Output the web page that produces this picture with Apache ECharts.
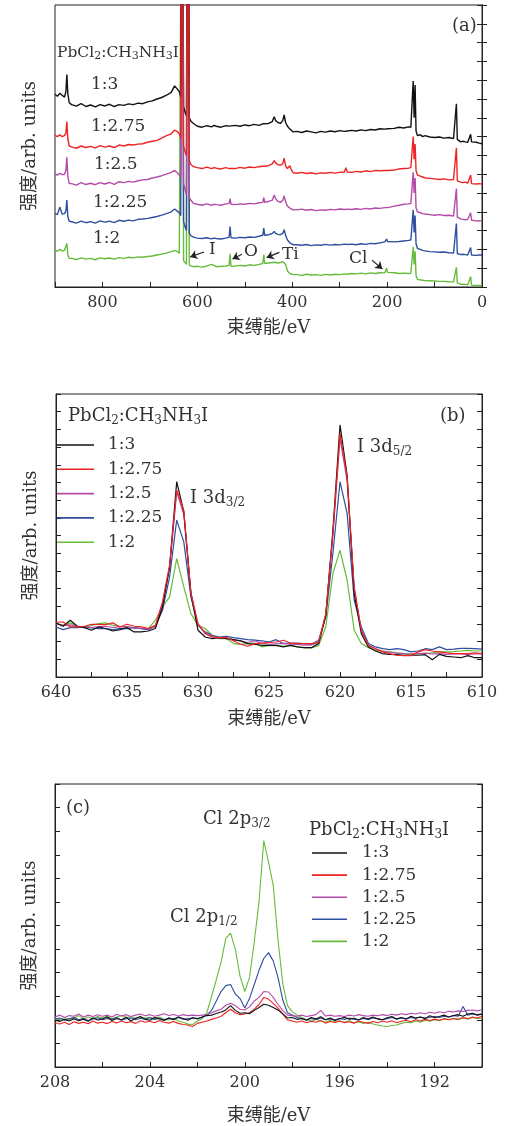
<!DOCTYPE html>
<html>
<head>
<meta charset="utf-8">
<script src="https://cdn.jsdelivr.net/npm/echarts@6/dist/echarts.min.js"></script>
<style>html,body{margin:0;padding:0;background:#fff}#main{width:506px;height:1126px}</style>
</head>
<body>
<div id="main"></div>
<script>
// PbCl2:CH3NH3I ratios
var names = ['1:3', '1:2.75', '1:2.5', '1:2.25', '1:2'];

// (a) survey, binding energy / eV
var xA = [900, 895, 890, 885, 880, 877, 875, 873, 870,
  865, 855, 845, 835, 825, 815, 805, 795, 785, 775, 765,
  755, 745, 735, 725, 715, 705, 695, 685, 675, 665, 655,
  648, 643, 638, 635, 632, 629, 626, 623, 620, 617, 613, 608,
  600, 590, 580, 570, 565, 560, 550, 540, 533, 531, 529,
  520, 510, 500, 490, 480, 470, 462, 460, 458, 450,
  442, 438, 435, 430, 425, 420, 417, 414, 410, 405, 403, 398,
  390, 380, 370, 360, 350, 340, 330, 320, 310, 300,
  290, 287, 284, 275, 265, 255, 245, 235, 225, 215,
  205, 201, 199, 195, 185, 175, 165, 155, 150,
  147, 145, 143, 141, 139, 136, 130, 125, 120, 110,
  100, 90, 80, 70, 60, 56, 54, 52, 49, 45,
  40, 35, 30, 26, 24, 22, 18, 12, 6, 0];
var a13 = [10.25, 10.15, 10.3, 10.2, 10.1, 10.4, 11.3, 10.3, 9.8,
  9.7, 9.62, 9.75, 9.6, 9.68, 9.58, 9.7, 9.63, 9.72, 9.6, 9.7,
  9.66, 9.74, 9.7, 9.78, 9.75, 9.85, 9.9, 10.0, 10.08, 10.2, 10.35,
  10.7, 10.55, 10.4, 10.1, 30, 9.6, 9.3, 9.1, 30, 9.0, 8.8, 8.7,
  8.55, 8.5, 8.58, 8.52, 8.6, 8.55, 8.5, 8.58, 8.56, 8.6, 8.55,
  8.6, 8.55, 8.62, 8.58, 8.65, 8.6, 8.68, 8.66, 8.7, 8.7,
  8.8, 9.05, 8.85, 8.75, 8.7, 8.85, 9.15, 8.75, 8.55, 8.4, 8.35, 8.25,
  8.28, 8.22, 8.3, 8.25, 8.2, 8.28, 8.24, 8.3, 8.26, 8.32,
  8.28, 8.35, 8.3, 8.33, 8.3, 8.36, 8.32, 8.38, 8.35, 8.42,
  8.4, 8.45, 8.42, 8.48, 8.44, 8.5, 8.46, 8.52, 8.5,
  8.55, 10.95, 9.0, 10.75, 8.3, 8.05, 8.1, 8.0, 8.05, 7.98,
  7.95, 7.98, 7.92, 7.95, 7.9, 7.92, 9.75, 7.85, 7.75, 7.72,
  7.75, 7.72, 7.7, 7.75, 8.12, 7.72, 7.68, 7.7, 7.65, 7.62];
var a1275 = [8.07, 8.0, 8.1, 8.0, 8.05, 8.2, 8.8, 7.9, 7.5,
  7.45, 7.38, 7.5, 7.42, 7.48, 7.4, 7.52, 7.44, 7.5, 7.42, 7.55,
  7.5, 7.58, 7.55, 7.6, 7.62, 7.7, 7.75, 7.8, 7.92, 8.05, 8.15,
  8.35, 8.28, 8.15, 7.9, 30, 7.5, 7.2, 7.0, 30, 6.7, 6.5, 6.4,
  6.35, 6.3, 6.38, 6.3, 6.35, 6.32, 6.28, 6.35, 6.3, 6.38, 6.32,
  6.3, 6.36, 6.32, 6.38, 6.35, 6.4, 6.42, 6.45, 6.48, 6.45,
  6.55, 6.72, 6.6, 6.5, 6.48, 6.55, 6.85, 6.45, 6.3, 6.45, 6.3, 6.08,
  6.05, 6.1, 6.04, 6.08, 6.02, 6.07, 6.05, 6.1, 6.06, 6.1,
  6.12, 6.35, 6.12, 6.1, 6.15, 6.12, 6.18, 6.14, 6.2, 6.18,
  6.2, 6.22, 6.2, 6.25, 6.22, 6.28, 6.3, 6.32, 6.35,
  6.32, 8.0, 6.8, 7.6, 6.2, 5.95, 5.9, 5.85, 5.8, 5.78,
  5.75, 5.72, 5.75, 5.7, 5.72, 5.7, 7.4, 5.65, 5.6, 5.58,
  5.55, 5.58, 5.52, 5.55, 5.95, 5.5, 5.52, 5.48, 5.5, 5.47];
var a125 = [6.04, 5.95, 6.05, 5.98, 6.0, 6.2, 6.9, 5.9, 5.5,
  5.5, 5.42, 5.55, 5.45, 5.52, 5.44, 5.55, 5.48, 5.56, 5.46, 5.6,
  5.55, 5.62, 5.58, 5.65, 5.7, 5.72, 5.8, 5.85, 5.92, 6.0, 6.1,
  6.2, 6.1, 5.95, 5.8, 30, 5.5, 5.2, 4.9, 30, 4.75, 4.6, 4.45,
  4.4, 4.35, 4.42, 4.35, 4.4, 4.38, 4.35, 4.42, 4.45, 4.7, 4.4,
  4.38, 4.42, 4.4, 4.45, 4.42, 4.48, 4.5, 4.75, 4.5, 4.55,
  4.62, 4.9, 4.7, 4.55, 4.5, 4.6, 4.85, 4.55, 4.3, 4.2, 4.15, 4.1,
  4.1, 4.14, 4.08, 4.12, 4.06, 4.1, 4.08, 4.13, 4.1, 4.15,
  4.12, 4.2, 4.14, 4.12, 4.16, 4.13, 4.18, 4.15, 4.2, 4.18,
  4.22, 4.25, 4.22, 4.28, 4.3, 4.35, 4.4, 4.42, 4.45,
  4.4, 6.1, 5.0, 5.8, 4.2, 4.0, 3.95, 3.9, 3.88, 3.85,
  3.82, 3.85, 3.8, 3.82, 3.78, 3.8, 5.24, 3.72, 3.65, 3.62,
  3.6, 3.58, 3.6, 3.56, 3.95, 3.55, 3.54, 3.52, 3.53, 3.52];
var a1225 = [3.91, 3.85, 4.25, 3.88, 3.9, 4.05, 4.62, 3.75, 3.5,
  3.47, 3.4, 3.5, 3.42, 3.48, 3.4, 3.52, 3.45, 3.5, 3.42, 3.55,
  3.5, 3.56, 3.52, 3.6, 3.62, 3.65, 3.7, 3.75, 3.82, 3.9, 4.0,
  4.15, 4.05, 3.95, 3.8, 30, 3.5, 3.2, 3.0, 30, 2.85, 2.72, 2.65,
  2.6, 2.58, 2.62, 2.56, 2.6, 2.58, 2.55, 2.6, 2.65, 3.22, 2.62,
  2.6, 2.64, 2.62, 2.66, 2.64, 2.7, 2.75, 3.13, 2.75, 2.78,
  2.85, 2.96, 2.85, 2.8, 2.78, 2.85, 3.05, 2.75, 2.5, 2.35, 2.3, 2.25,
  2.25, 2.22, 2.26, 2.2, 2.24, 2.22, 2.27, 2.23, 2.26, 2.24,
  2.28, 2.3, 2.26, 2.28, 2.25, 2.3, 2.27, 2.32, 2.3, 2.35,
  2.4, 2.55, 2.42, 2.38, 2.4, 2.42, 2.45, 2.48, 2.5,
  2.45, 4.1, 2.9, 3.8, 2.3, 2.05, 2.0, 1.95, 1.92, 1.88,
  1.87, 1.85, 1.86, 1.82, 1.8, 1.82, 3.38, 1.78, 1.75, 1.72,
  1.74, 1.72, 1.7, 1.72, 2.1, 1.7, 1.72, 1.68, 1.7, 1.7];
var a12 = [1.96, 1.9, 2.0, 1.92, 1.95, 2.0, 2.32, 1.7, 1.52,
  1.52, 1.46, 1.55, 1.48, 1.52, 1.45, 1.55, 1.5, 1.54, 1.48, 1.56,
  1.52, 1.58, 1.55, 1.6, 1.58, 1.62, 1.65, 1.7, 1.75, 1.8, 1.88,
  1.95, 1.9, 1.8, 1.7, 30, 1.4, 1.3, 1.2, 30, 1.15, 1.1, 1.08,
  1.1, 1.06, 1.12, 1.2, 1.15, 1.08, 1.1, 1.12, 1.15, 1.77, 1.1,
  1.12, 1.15, 1.12, 1.18, 1.15, 1.2, 1.25, 1.72, 1.25, 1.28,
  1.3, 1.36, 1.3, 1.28, 1.3, 1.35, 1.45, 1.2, 0.85, 0.72, 0.7, 0.66,
  0.66, 0.62, 0.68, 0.64, 0.66, 0.62, 0.67, 0.64, 0.68, 0.66,
  0.7, 0.75, 0.68, 0.72, 0.7, 0.74, 0.7, 0.75, 0.72, 0.76,
  0.75, 1.0, 0.78, 0.74, 0.76, 0.72, 0.74, 0.72, 0.73,
  0.75, 2.14, 1.2, 1.9, 0.6, 0.4, 0.38, 0.36, 0.34, 0.33,
  0.32, 0.3, 0.3, 0.28, 0.27, 0.28, 1.05, 0.22, 0.18, 0.15,
  0.15, 0.14, 0.12, 0.12, 0.55, 0.1, 0.1, 0.08, 0.08, 0.07];

// (b) I 3d region
var xB = [640, 639.5, 639, 638.5, 638, 637.5, 637, 636.5, 636, 635.5,
  635, 634.5, 634, 633.5, 633, 632.5, 632, 631.5, 631, 630.5,
  630, 629.5, 629, 628.5, 628, 627.5, 627, 626.5, 626, 625.5,
  625, 624.5, 624, 623.5, 623, 622.5, 622, 621.5, 621, 620.5,
  620, 619.5, 619, 618.5, 618, 617.5, 617, 616.5, 616, 615.5,
  615, 614.5, 614, 613.5, 613, 612.5, 612, 611.5, 611, 610.5,
  610];
var b13 = [3.06, 2.87, 3.21, 2.87, 2.79, 2.64, 2.83, 2.74, 2.6, 2.68,
  2.79, 2.55, 2.55, 2.6, 2.74, 3.96, 6.23, 11.04, 9.34, 4.72,
  2.64, 2.26, 2.17, 2.23, 2.17, 2.11, 2.04, 1.89, 1.85, 1.79,
  1.79, 1.79, 1.7, 1.79, 1.7, 1.66, 1.66, 1.89, 3.49, 8.3,
  14.25, 11.42, 4.72, 2.45, 1.7, 1.47, 1.32, 1.28, 1.26, 1.23,
  1.23, 1.23, 1.26, 0.98, 1.28, 1.17, 1.13, 1.09, 1.21, 1.09,
  1.09];
var b1275 = [3.11, 3.11, 2.83, 2.83, 2.87, 2.98, 2.98, 2.96, 3.06, 2.83,
  2.98, 2.87, 2.83, 2.74, 2.92, 4.25, 6.32, 10.57, 9.43, 4.72,
  3.02, 2.45, 2.26, 2.23, 2.23, 2.04, 1.85, 1.74, 1.89, 1.92,
  1.96, 1.98, 2.08, 1.92, 1.89, 1.89, 1.89, 1.98, 3.58, 8.11,
  13.77, 11.32, 5.09, 2.64, 1.79, 1.6, 1.42, 1.32, 1.23, 1.21,
  1.21, 1.42, 1.55, 1.47, 1.42, 1.36, 1.32, 1.32, 1.32, 1.36,
  1.32];
var b125 = [3.0, 2.92, 2.95, 2.85, 2.83, 2.8, 2.85, 2.87, 2.8, 2.83,
  2.85, 2.78, 2.75, 2.72, 2.85, 4.1, 6.2, 10.47, 9.2, 4.8,
  2.95, 2.5, 2.28, 2.2, 2.22, 2.1, 2.05, 1.95, 2.05, 1.9,
  1.85, 1.88, 1.9, 1.86, 1.84, 1.8, 1.82, 1.95, 3.5, 8.0,
  13.5, 11.1, 5.0, 2.6, 1.8, 1.6, 1.45, 1.4, 1.35, 1.32,
  1.3, 1.32, 1.35, 1.3, 1.32, 1.28, 1.3, 1.3, 1.28, 1.3,
  1.3];
var b1225 = [2.83, 2.68, 2.79, 2.79, 2.83, 2.77, 2.74, 2.74, 2.68, 2.74,
  2.74, 2.79, 2.74, 2.68, 2.87, 3.77, 5.66, 8.87, 7.64, 4.53,
  2.92, 2.55, 2.36, 2.26, 2.3, 2.23, 2.17, 2.11, 2.08, 2.04,
  1.98, 2.11, 1.89, 1.92, 1.92, 1.89, 1.85, 2.08, 3.4, 6.98,
  11.04, 9.25, 4.34, 2.83, 1.89, 1.7, 1.6, 1.55, 1.6, 1.55,
  1.42, 1.47, 1.6, 1.55, 1.7, 1.55, 1.58, 1.62, 1.62, 1.6,
  1.58];
var b12 = [3.02, 2.92, 3.06, 2.87, 2.79, 2.92, 3.02, 3.06, 2.92, 2.87,
  2.83, 2.77, 2.74, 2.74, 3.21, 3.96, 4.53, 6.7, 5.1, 3.58,
  2.92, 2.74, 2.36, 2.17, 2.17, 1.89, 1.85, 1.89, 1.92, 1.7,
  1.77, 1.79, 1.74, 1.79, 1.7, 1.64, 1.64, 1.79, 2.83, 5.85,
  7.17, 5.47, 2.64, 1.89, 1.66, 1.51, 1.47, 1.42, 1.36, 1.32,
  1.28, 1.32, 1.32, 1.36, 1.42, 1.42, 1.43, 1.47, 1.51, 1.47,
  1.47];

// (c) Cl 2p region
var xC = [208, 207.8, 207.6, 207.4, 207.2, 207, 206.8, 206.6, 206.4, 206.2,
  206, 205.8, 205.6, 205.4, 205.2, 205, 204.8, 204.6, 204.4, 204.2,
  204, 203.8, 203.6, 203.4, 203.2, 203, 202.8, 202.6, 202.4, 202.2,
  202, 201.8, 201.6, 201.4, 201.2, 201, 200.8, 200.6, 200.4, 200.2,
  200, 199.8, 199.6, 199.4, 199.2, 199, 198.8, 198.6, 198.4, 198.2,
  198, 197.8, 197.6, 197.4, 197.2, 197, 196.8, 196.6, 196.4, 196.2,
  196, 195.8, 195.6, 195.4, 195.2, 195, 194.8, 194.6, 194.4, 194.2,
  194, 193.8, 193.6, 193.4, 193.2, 193, 192.8, 192.6, 192.4, 192.2,
  192, 191.8, 191.6, 191.4, 191.2, 191, 190.8, 190.6, 190.4, 190.2,
  190];
var c13 = [1.98, 1.93, 2.02, 1.95, 2.05, 1.96, 2.03, 1.94, 2.08, 1.99,
  2.04, 2.12, 1.97, 2.06, 2.0, 2.11, 1.95, 2.07, 2.14, 2.02,
  1.98, 2.1, 2.05, 1.97, 2.08, 2.0, 2.12, 2.06, 1.98, 2.09,
  2.04, 2.12, 2.18, 2.2, 2.27, 2.33, 2.42, 2.6, 2.4, 2.28,
  2.3, 2.26, 2.4, 2.52, 2.66, 2.62, 2.52, 2.42, 2.25, 2.08,
  2.1, 2.02, 2.06, 1.98, 2.1, 2.04, 2.13, 2.0, 2.08, 1.97,
  2.05, 2.11, 2.02, 2.07, 1.99, 2.1, 2.03, 2.12, 2.05, 2.0,
  2.09, 2.14, 2.04, 2.1, 2.02, 2.15, 2.08, 2.12, 2.05, 2.17,
  2.1, 2.14, 2.2, 2.12, 2.18, 2.22, 2.15, 2.25, 2.28, 2.2,
  2.24];
var c1275 = [1.88, 1.82, 1.9, 1.8, 1.92, 1.85, 1.9, 1.83, 1.95, 1.86,
  1.9, 1.84, 1.93, 1.87, 1.95, 1.88, 1.92, 1.85, 1.96, 1.9,
  1.94, 1.88, 1.97, 1.9, 1.86, 1.93, 1.85, 1.8, 1.78, 1.72,
  1.85, 1.9, 1.95, 2.02, 2.08, 2.15, 2.3, 2.45, 2.3, 2.22,
  2.25, 2.3, 2.45, 2.65, 2.95, 2.88, 2.7, 2.5, 2.25, 2.0,
  1.95, 1.9, 1.95, 1.88, 1.94, 1.9, 1.97, 1.86, 1.93, 1.89,
  1.95, 1.88, 1.92, 1.86, 1.94, 1.9, 1.85, 1.93, 1.88, 1.95,
  1.9, 1.96, 1.88, 1.94, 1.98, 1.92, 2.0, 1.95, 2.02, 1.97,
  2.03, 1.98, 2.05, 2.0, 2.06, 2.02, 2.1, 2.05, 2.12, 2.08,
  2.15];
var c125 = [2.12, 2.2, 2.1, 2.18, 2.15, 2.25, 2.12, 2.2, 2.14, 2.22,
  2.15, 2.2, 2.12, 2.24, 2.16, 2.22, 2.14, 2.2, 2.25, 2.17,
  2.22, 2.15, 2.2, 2.26, 2.18, 2.23, 2.16, 2.22, 2.18, 2.2,
  2.18, 2.2, 2.22, 2.3, 2.38, 2.45, 2.62, 2.7, 2.6, 2.45,
  2.42, 2.55, 2.8, 2.95, 3.2, 3.18, 2.95, 2.65, 2.4, 2.2,
  2.18, 2.15, 2.2, 2.14, 2.18, 2.22, 2.4, 2.16, 2.2, 2.15,
  2.18, 2.14, 2.2, 2.16, 2.22, 2.18, 2.15, 2.2, 2.17, 2.22,
  2.18, 2.24, 2.2, 2.26, 2.22, 2.28, 2.25, 2.3, 2.26, 2.32,
  2.28, 2.34, 2.3, 2.36, 2.33, 2.38, 2.35, 2.4, 2.42, 2.38,
  2.43];
var c1225 = [2.02, 2.08, 1.98, 2.05, 2.1, 2.0, 2.06, 1.97, 2.04, 2.09,
  2.0, 2.06, 2.02, 2.1, 1.98, 2.05, 2.08, 2.0, 2.07, 2.03,
  2.09, 2.02, 2.06, 2.0, 2.08, 2.04, 2.1, 2.02, 2.05, 2.08,
  2.06, 2.1, 2.2, 2.4, 2.8, 3.2, 3.45, 3.5, 3.1, 2.9,
  2.5, 2.9, 3.5, 4.1, 4.6, 4.85, 4.5, 3.8, 2.85, 2.3,
  2.2, 2.1, 2.05, 2.0, 2.06, 2.02, 2.08, 2.0, 2.04, 2.0,
  2.06, 2.02, 2.08, 2.03, 2.0, 2.06, 2.02, 2.08, 2.04, 2.0,
  2.05, 2.1, 2.03, 2.08, 2.05, 2.1, 2.06, 2.12, 2.08, 2.1,
  2.14, 2.1, 2.15, 2.12, 2.18, 2.15, 2.57, 2.2, 2.25, 2.22,
  2.26];
var c12 = [2.05, 2.0, 2.1, 2.02, 2.08, 2.18, 2.04, 2.12, 2.06, 2.14,
  2.08, 2.15, 2.05, 2.12, 2.18, 2.1, 2.14, 2.06, 2.12, 2.08,
  2.1, 2.05, 2.12, 2.02, 2.0, 2.06, 1.95, 1.9, 1.82, 1.8,
  1.95, 2.05, 2.3, 3.0, 3.7, 4.45, 5.45, 5.68, 5.0, 3.85,
  3.2, 3.8, 5.3, 7.0, 9.6, 8.7, 7.7, 5.4, 3.55, 2.6,
  2.35, 2.2, 2.1, 2.0, 1.95, 2.02, 1.96, 1.9, 1.98, 1.92,
  1.95, 1.9, 1.96, 1.88, 1.92, 1.85, 1.9, 1.82, 1.78, 1.74,
  1.72, 1.76, 1.78, 1.85, 1.9, 1.88, 1.95, 1.9, 1.98, 1.94,
  2.0, 1.96, 2.04, 2.0, 2.06, 2.02, 2.08, 2.04, 2.1, 2.06,
  2.08];

var colors = {'1:3': '#111111', '1:2.75': '#ee2424', '1:2.5': '#b34ba8', '1:2.25': '#2f4e9f', '1:2': '#67bb3c'};
var FONT = '"DejaVu Serif", "Noto Sans CJK SC", serif';
var TXT = '#333';

var chart = echarts.init(document.getElementById('main'));

function mk(name, xs, ys, g, w) {
  return {
    name: name, type: 'line', xAxisIndex: g, yAxisIndex: g * 2,
    data: xs.map(function (x, i) { return [x, ys[i]]; }),
    symbol: 'none', clip: true, animation: false,
    lineStyle: {width: w, color: colors[name]},
    itemStyle: {color: colors[name]}
  };
}

function xAx(g, min, max, step, labStep, gap) {
  return {
    type: 'value', gridIndex: g, inverse: true, min: min, max: max, interval: step,
    axisLine: {lineStyle: {color: '#222', width: 1}},
    axisTick: {inside: true, length: 5, lineStyle: {color: '#222'}},
    splitLine: {show: false},
    axisLabel: {
      fontFamily: FONT, fontSize: 16, color: TXT, margin: 8,
      formatter: function (v) { return Math.abs(v / labStep - Math.round(v / labStep)) < 1e-6 ? String(v) : ''; }
    },
    name: '束缚能/eV', nameLocation: 'middle', nameGap: gap,
    nameTextStyle: {fontFamily: FONT, fontSize: 18, color: TXT}
  };
}

function yAx(g, max, right) {
  return {
    type: 'value', gridIndex: g, min: 0, max: max, interval: 1, position: right ? 'right' : 'left',
    axisLine: {show: true, lineStyle: {color: '#222', width: 1}},
    axisTick: {show: true, inside: true, length: 5, lineStyle: {color: '#222'}},
    axisLabel: {show: false}, splitLine: {show: false},
    name: right ? '' : '强度/arb. units', nameLocation: 'middle', nameGap: 16,
    nameTextStyle: {fontFamily: FONT, fontSize: 18, color: TXT}
  };
}

var chemRich = function (m, s, pad) {
  return {m: {fontFamily: FONT, fontSize: m}, s: {fontFamily: FONT, fontSize: s, padding: [pad, 0, 0, 0]}};
};
function txt(x, y, text, size, rich) {
  var st = {text: text, fontFamily: FONT, fontSize: size, fill: TXT, align: 'left', verticalAlign: 'middle'};
  if (rich) st.rich = rich;
  return {type: 'text', x: x, y: y, silent: true, style: st};
}
var CHEM = '{m|PbCl}{s|2}{m|:CH}{s|3}{m|NH}{s|3}{m|I}';

var order = ['1:2', '1:2.25', '1:2.5', '1:3', '1:2.75'];
var setA = {'1:3': a13, '1:2.75': a1275, '1:2.5': a125, '1:2.25': a1225, '1:2': a12};
var setB = {'1:3': b13, '1:2.75': b1275, '1:2.5': b125, '1:2.25': b1225, '1:2': b12};
var setC = {'1:3': c13, '1:2.75': c1275, '1:2.5': c125, '1:2.25': c1225, '1:2': c12};

var series = [];
order.forEach(function (n) { series.push(mk(n, xA, setA[n], 0, 1.4)); });
order.forEach(function (n) { series.push(mk(n, xB, setB[n], 1, 1.2)); });
['1:2', '1:2.25', '1:2.5', '1:2.75', '1:3'].forEach(function (n) { series.push(mk(n, xC, setC[n], 2, 1.1)); });

// arrows for I, O, Ti, Cl in (a)
series[0].markLine = {
  silent: true, symbol: ['none', 'arrow'], symbolSize: 7, animation: false,
  label: {show: false},
  lineStyle: {color: '#222', width: 1.2, type: 'solid'},
  data: [
    [{coord: [586, 1.86]}, {coord: [615, 1.6]}],
    [{coord: [506, 1.74]}, {coord: [526, 1.49]}],
    [{coord: [427, 1.84]}, {coord: [454, 1.56]}],
    [{coord: [232, 1.43]}, {coord: [210, 0.96]}]
  ]
};

var legendBase = {
  data: names, orient: 'vertical', icon: 'rect', itemHeight: 1.6, padding: 0,
  selectedMode: false
};

var option = {
  backgroundColor: '#ffffff',
  animation: false,
  grid: [
    {left: 55, top: 5, width: 427, height: 282, show: true, borderColor: '#222', borderWidth: 1},
    {left: 56, top: 394, width: 426, height: 283, show: true, borderColor: '#222', borderWidth: 1},
    {left: 55, top: 784, width: 427, height: 283, show: true, borderColor: '#222', borderWidth: 1}
  ],
  xAxis: [xAx(0, 0, 900, 100, 200, 32), xAx(1, 610, 640, 2.5, 5, 33), xAx(2, 190, 208, 2, 4, 40)],
  yAxis: [yAx(0, 15, false), yAx(0, 15, true), yAx(1, 16, false), yAx(1, 16, true), yAx(2, 12, false), yAx(2, 12, true)],
  legend: [
    Object.assign({}, legendBase, {left: 57, top: 436, itemWidth: 37, itemGap: 6.3,
      textStyle: {fontFamily: FONT, fontSize: 17, color: TXT, lineHeight: 18, padding: [0, 0, 0, 9]}}),
    Object.assign({}, legendBase, {left: 312, top: 844, itemWidth: 35, itemGap: 4.1,
      textStyle: {fontFamily: FONT, fontSize: 17, color: TXT, lineHeight: 18, padding: [0, 0, 0, 10]}})
  ],
  graphic: [
    txt(452, 26, '(a)', 18),
    txt(57, 53, CHEM, 15, chemRich(15.5, 11, 7)),
    txt(91, 85, '1:3', 17),
    txt(91, 127, '1:2.75', 17),
    txt(94, 165, '1:2.5', 17),
    txt(93, 203, '1:2.25', 17),
    txt(93, 239, '1:2', 17),
    txt(209, 250, 'I', 17),
    txt(244, 252, 'O', 17),
    txt(282, 255, 'Ti', 17),
    txt(349, 259, 'Cl', 17),
    txt(440, 416, '(b)', 18),
    txt(68, 416, CHEM, 18, chemRich(18, 12, 9)),
    txt(357, 447, '{m|I 3d}{s|5/2}', 18, chemRich(18, 12, 9)),
    txt(190, 498, '{m|I 3d}{s|3/2}', 18, chemRich(18, 12, 9)),
    txt(66, 808, '(c)', 18),
    txt(203, 819, '{m|Cl 2p}{s|3/2}', 18, chemRich(18, 12, 9)),
    txt(170, 917, '{m|Cl 2p}{s|1/2}', 18, chemRich(18, 12, 9)),
    txt(309, 830, CHEM, 18, chemRich(18, 12, 9))
  ],
  series: series
};
chart.setOption(option);
</script>
</body>
</html>
